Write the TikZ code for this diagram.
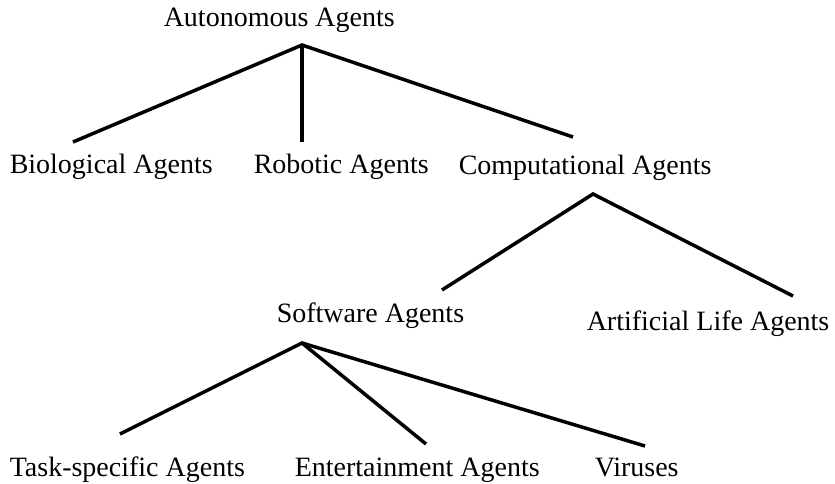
\documentclass[tikz,border=0pt]{standalone}
\usepackage{fontspec}
\setmainfont{Liberation Serif}

\begin{document}
\begin{tikzpicture}[x=1pt, y=-1pt, line width=3.5pt,
    label/.style={anchor=base west, inner sep=0pt, font=\fontsize{28}{32}\selectfont}]
    \useasboundingbox (0,0) rectangle (835,484);
    % labels
    \node[label] (auto) at (162,27) {Autonomous Agents};
    \node[label] (bio) at (8,173) {Biological Agents};
    \node[label] (robo) at (252,173) {Robotic Agents};
    \node[label] (comp) at (457,175) {Computational Agents};
    \node[label] (soft) at (275,322) {Software Agents};
    \node[label] (alife) at (585,330) {Artificial Life Agents};
    \node[label] (task) at (8,476) {Task-specific Agents};
    \node[label] (ent) at (293,476) {Entertainment Agents};
    \node[label] (vir) at (593,476) {Viruses};
    % forks and line ends
    \coordinate (autofork) at (302,45);
    \coordinate (bioend) at (73,142);
    \coordinate (roboend) at (302,142);
    \coordinate (compend) at (573,137);
    \coordinate (compfork) at (593,194);
    \coordinate (softend) at (442,290);
    \coordinate (alifeend) at (793,296);
    \coordinate (softfork) at (302,343);
    \coordinate (taskend) at (120,434);
    \coordinate (entend) at (426,444);
    \coordinate (virend) at (645,446);
    \draw (bioend)--(autofork)--(compend);
    \draw (autofork)--(roboend);
    \draw (softend)--(compfork)--(alifeend);
    \draw (taskend)--(softfork)--(virend);
    \draw (softfork)--(entend);
\end{tikzpicture}
\end{document}
